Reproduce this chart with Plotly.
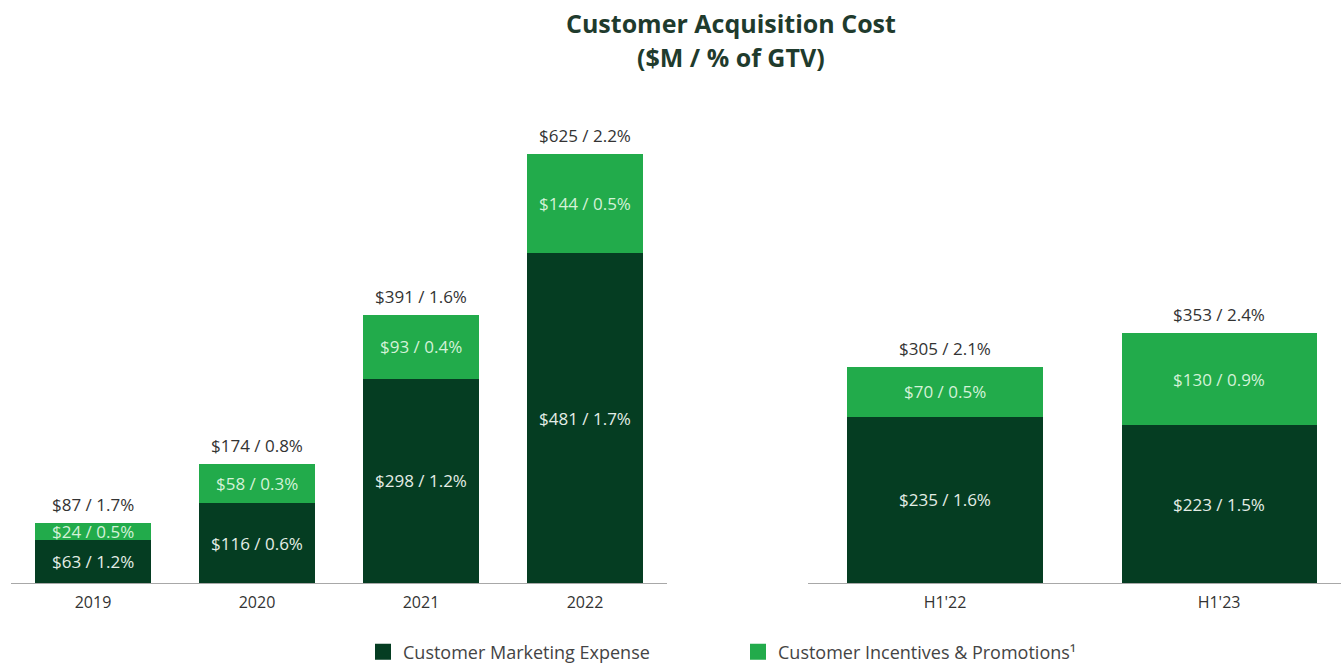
import plotly.graph_objects as go

W, H = 1341, 663

years = ["2019", "2020", "2021", "2022"]
halves = ["H1'22", "H1'23"]

mkt_years = [63, 116, 298, 481]
mkt_years_pct = ["1.2%", "0.6%", "1.2%", "1.7%"]
inc_years = [24, 58, 93, 144]
inc_years_pct = ["0.5%", "0.3%", "0.4%", "0.5%"]
tot_years = [87, 174, 391, 625]
tot_years_pct = ["1.7%", "0.8%", "1.6%", "2.2%"]

mkt_halves = [235, 223]
mkt_halves_pct = ["1.6%", "1.5%"]
inc_halves = [70, 130]
inc_halves_pct = ["0.5%", "0.9%"]
tot_halves = [305, 353]
tot_halves_pct = ["2.1%", "2.4%"]

DARK = "#053d22"
LIGHT = "#22ab4b"
FONT = "Open Sans"
MKT_NAME = "Customer Marketing Expense"
INC_NAME = "Customer Incentives & Promotions¹"

fig = go.Figure()

def add_group(cats, mkt, inc, xa, ya, width):
    fig.add_trace(go.Bar(x=cats, y=mkt, marker_color=DARK, marker_line_width=0, width=width,
                         name=MKT_NAME, xaxis=xa, yaxis=ya,
                         showlegend=False, hoverinfo="skip"))
    fig.add_trace(go.Bar(x=cats, y=inc, marker_color=LIGHT, marker_line_width=0, width=width,
                         name=INC_NAME, xaxis=xa, yaxis=ya,
                         showlegend=False, hoverinfo="skip"))

add_group(years, mkt_years, inc_years, "x", "y", 0.713)
add_group(halves, mkt_halves, inc_halves, "x2", "y2", 0.712)

# legend entries
for nm, col in [(MKT_NAME, DARK), (INC_NAME, LIGHT)]:
    fig.add_trace(go.Scatter(x=[None], y=[None], mode="markers", name=nm,
                             marker=dict(symbol="square", size=17, color=col),
                             xaxis="x", yaxis="y", hoverinfo="skip"))

anns = []
def add_labels(cats, mkt, mpct, inc, ipct, tot, tpct, xr, yr):
    for i in range(len(cats)):
        anns.append(dict(x=i, y=mkt[i] / 2, xref=xr, yref=yr, showarrow=False,
                         text=f"${mkt[i]} / {mpct[i]}",
                         font=dict(family=FONT, size=17, color="#e4ede6")))
        anns.append(dict(x=i, y=mkt[i] + inc[i] / 2, xref=xr, yref=yr, showarrow=False,
                         text=f"${inc[i]} / {ipct[i]}",
                         font=dict(family=FONT, size=17, color="#d4f2d8")))
        anns.append(dict(x=i, y=tot[i], xref=xr, yref=yr, showarrow=False,
                         yanchor="bottom", yshift=5,
                         text=f"${tot[i]} / {tpct[i]}",
                         font=dict(family=FONT, size=17, color="#333333")))

add_labels(years, mkt_years, mkt_years_pct, inc_years, inc_years_pct,
           tot_years, tot_years_pct, "x", "y")
add_labels(halves, mkt_halves, mkt_halves_pct, inc_halves, inc_halves_pct,
           tot_halves, tot_halves_pct, "x2", "y2")

anns.append(dict(x=731 / W, y=1 - 23 / H, xref="paper", yref="paper", showarrow=False,
                 text="<b>Customer Acquisition Cost</b>", yanchor="middle",
                 font=dict(family=FONT, size=25, color="#1f3b2d")))
anns.append(dict(x=731 / W, y=1 - 57 / H, xref="paper", yref="paper", showarrow=False,
                 text="<b>($M / % of GTV)</b>", yanchor="middle",
                 font=dict(family=FONT, size=25, color="#1f3b2d")))

ybot = 1 - 583 / H
ytop = 1 - 100 / H
px_per_unit_left = 0.686
px_per_unit_right = 0.708
span = (ytop - ybot) * H

axis_common = dict(showgrid=False, zeroline=False, showline=True, linecolor="#a8a8a8",
                   linewidth=1, ticks="outside", ticklen=5, tickcolor="rgba(0,0,0,0)",
                   tickfont=dict(family=FONT, size=16, color="#333333"))

fig.update_layout(
    width=W, height=H, barmode="stack",
    margin=dict(l=0, r=0, t=0, b=0, autoexpand=False),
    paper_bgcolor="white", plot_bgcolor="white",
    xaxis=dict(domain=[11 / W, 667 / W], range=[-0.5, 3.5], type="category",
               anchor="y", **axis_common),
    yaxis=dict(domain=[ybot, ytop], range=[0, span / px_per_unit_left], visible=False, anchor="x"),
    xaxis2=dict(domain=[808 / W, 1.0], range=[-0.5, 1.445], type="category",
                anchor="y2", **axis_common),
    yaxis2=dict(domain=[ybot, ytop], range=[0, span / px_per_unit_right], visible=False, anchor="x2"),
    legend=dict(orientation="h", x=363 / W, y=1 - 652 / H, xanchor="left", yanchor="middle",
                font=dict(family=FONT, size=18, color="#444444"), itemsizing="trace",
                entrywidth=330, entrywidthmode="pixels", traceorder="normal"),
    annotations=anns,
)

fig.write_html("out.html", config={"displayModeBar": False},
               post_script="document.body.style.margin='0';")
